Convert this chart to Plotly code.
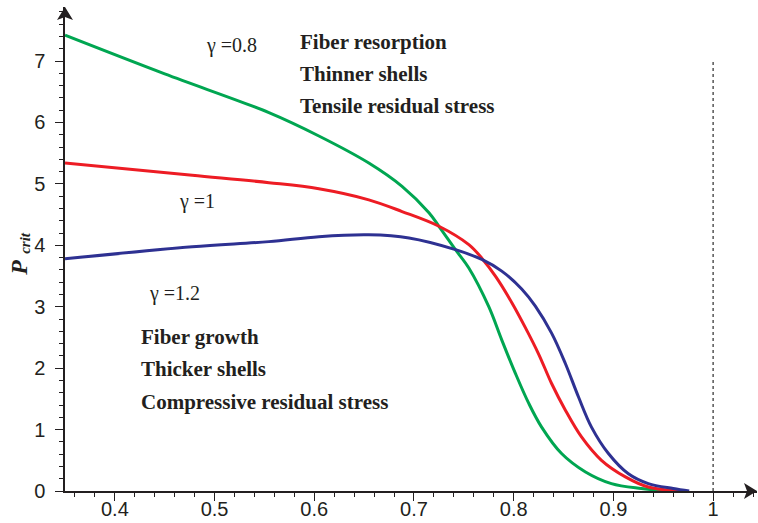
import plotly.graph_objects as go

# Critical pressure curves for three growth ratios gamma
x_g08 = [0.35, 0.45, 0.5545, 0.6046, 0.6547, 0.688, 0.715, 0.725, 0.7416, 0.755, 0.775,
         0.788, 0.8017, 0.815, 0.828, 0.848, 0.872, 0.898, 0.928, 0.955]
p_g08 = [7.42, 6.79, 6.16, 5.78, 5.34, 4.96, 4.53, 4.31, 3.93, 3.63, 3.00,
         2.46, 1.915, 1.43, 1.04, 0.61, 0.31, 0.12, 0.04, 0.0]

x_g10 = [0.35, 0.4776, 0.5545, 0.6046, 0.6547, 0.688, 0.725, 0.755, 0.768, 0.782, 0.798,
         0.8117, 0.825, 0.838, 0.8517, 0.868, 0.888, 0.912, 0.935, 0.966]
p_g10 = [5.34, 5.14, 5.02, 4.92, 4.74, 4.55, 4.31, 4.01, 3.79, 3.49, 3.07,
         2.66, 2.23, 1.75, 1.32, 0.88, 0.50, 0.23, 0.065, 0.0]

x_g12 = [0.35, 0.4776, 0.5545, 0.6046, 0.6547, 0.695, 0.7416, 0.768, 0.788, 0.808, 0.8217,
         0.838, 0.8517, 0.865, 0.878, 0.895, 0.915, 0.935, 0.96, 0.976]
p_g12 = [3.78, 3.975, 4.06, 4.14, 4.17, 4.12, 3.93, 3.77, 3.58, 3.29, 3.01,
         2.57, 2.08, 1.53, 1.04, 0.61, 0.28, 0.12, 0.04, 0.0]

x_ticks = [0.4, 0.5, 0.6, 0.7, 0.8, 0.9, 1.0]
x_tick_text = ["0.4", "0.5", "0.6", "0.7", "0.8", "0.9", "1"]
y_ticks = [0, 1, 2, 3, 4, 5, 6, 7]
limit_x = 1.0
limit_top = 7.0

INK = "#231F20"
SERIF = "Liberation Serif, serif"
SANS = "Liberation Sans, Arial, sans-serif"

fig = go.Figure()
for xs, ys, col in [(x_g08, p_g08, "#00A651"),
                    (x_g10, p_g10, "#ED1C24"),
                    (x_g12, p_g12, "#2E3192")]:
    fig.add_trace(go.Scatter(x=xs, y=ys, mode="lines",
                             line=dict(color=col, width=3, shape="spline", smoothing=1.0),
                             showlegend=False, hoverinfo="skip"))

# dotted limit line at x = 1
fig.add_shape(type="line", xref="x", yref="y", x0=limit_x, x1=limit_x, y0=0, y1=limit_top,
              line=dict(color="#555555", width=1.5, dash="dot"))

# axis arrowheads
fig.add_shape(type="path", xref="paper", yref="paper", xsizemode="pixel", ysizemode="pixel",
              xanchor=1, yanchor=0, path="M 0,0 L -13,8 L -10,0 L -13,-8 Z",
              fillcolor=INK, line=dict(color=INK, width=0))
fig.add_shape(type="path", xref="paper", yref="paper", xsizemode="pixel", ysizemode="pixel",
              xanchor=0, yanchor=1, path="M 0,0 L -8,-13 L 0,-10 L 8,-13 Z",
              fillcolor=INK, line=dict(color=INK, width=0))

labels = [
    ("γ =0.8", 0.5165, 7.25, "center", False),
    ("Fiber resorption", 0.5837, 7.31, "left", True),
    ("Thinner shells", 0.5837, 6.79, "left", True),
    ("Tensile residual stress", 0.5837, 6.27, "left", True),
    ("γ =1", 0.4622, 4.71, "left", False),
    ("γ =1.2", 0.432, 3.22, "left", False),
    ("Fiber growth", 0.424, 2.51, "left", True),
    ("Thicker shells", 0.424, 1.99, "left", True),
    ("Compressive residual stress", 0.424, 1.45, "left", True),
]
for txt, xv, yv, anc, bold in labels:
    fig.add_annotation(x=xv, y=yv, xref="x", yref="y", showarrow=False,
                       text=f"<b>{txt}</b>" if bold else txt, xanchor=anc, yanchor="middle",
                       font=dict(family=SERIF, size=21 if bold else 20, color=INK))

# y-axis title: P with subscript "crit", rotated
fig.add_annotation(x=-0.067, y=(491 - 268) / 484, xref="paper", yref="paper", showarrow=False,
                   text="<b><i>P</i></b>", textangle=-90, xanchor="center", yanchor="middle",
                   font=dict(family=SERIF, size=24, color=INK))
fig.add_annotation(x=-0.058, y=(491 - 243) / 484, xref="paper", yref="paper", showarrow=False,
                   text="<b><i>crit</i></b>", textangle=-90, xanchor="center", yanchor="middle",
                   font=dict(family=SERIF, size=15, color=INK))

fig.update_layout(
    width=758, height=523,
    margin=dict(l=65, r=1, t=7, b=32, autoexpand=False),
    plot_bgcolor="white", paper_bgcolor="white",
    xaxis=dict(range=[0.35, 1.044], tickvals=x_ticks, ticktext=x_tick_text, automargin=False,
               showgrid=False, zeroline=False, showline=True, linecolor=INK, linewidth=1.5,
               ticks="outside", ticklen=8, tickwidth=1.2, tickcolor=INK,
               minor=dict(dtick=0.02, tick0=0, ticks="outside", ticklen=4, tickwidth=1, tickcolor=INK),
               tickfont=dict(family=SANS, size=20, color=INK), ticklabelstandoff=-9),
    yaxis=dict(range=[0, 7.88], tickvals=y_ticks, automargin=False,
               showgrid=False, zeroline=False, showline=True, linecolor=INK, linewidth=1.5,
               ticks="outside", ticklen=8, tickwidth=1.2, tickcolor=INK,
               minor=dict(dtick=0.2, tick0=0, ticks="outside", ticklen=4, tickwidth=1, tickcolor=INK),
               tickfont=dict(family=SANS, size=20, color=INK), ticklabelstandoff=6),
)

fig.write_html("out.html")
